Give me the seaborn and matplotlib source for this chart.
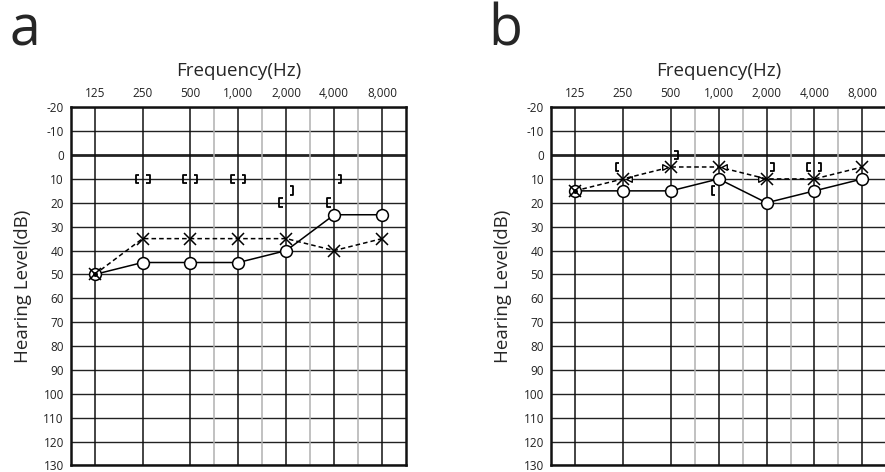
import matplotlib
matplotlib.use("Agg")
import matplotlib.pyplot as plt
from matplotlib.path import Path
import numpy as np
import pandas as pd
import seaborn as sns

# --- data ---
freq_labels = ["125", "250", "500", "1,000", "2,000", "4,000", "8,000"]
db_ticks = list(range(-20, 140, 10))

# panel a
a_right_air = [50, 45, 45, 45, 40, 25, 25]      # O, solid
a_left_air = [50, 35, 35, 35, 35, 40, 35]       # X, dashed
a_right_bone_freq = [1, 2, 3, 4, 5]             # "[" brackets
a_right_bone_db = [10, 10, 10, 20, 20]
a_left_bone_freq = [1, 2, 3, 4, 5]              # "]" brackets
a_left_bone_db = [10, 10, 10, 15, 10]

# panel b
b_right_air = [15, 15, 15, 10, 20, 15, 10]
b_left_air = [15, 10, 5, 5, 10, 10, 5]
b_right_bone_freq = [1, 3, 5]
b_right_bone_db = [5, 15, 5]
b_left_bone_freq = [2, 4, 5]
b_left_bone_db = [0, 5, 5]

sns.set_style("white")
plt.rcParams["font.family"] = ["Open Sans", "DejaVu Sans"]
plt.rcParams["axes.unicode_minus"] = False

codes = [Path.MOVETO, Path.LINETO, Path.LINETO, Path.LINETO]
open_bracket = Path([(0.4, -1), (-0.4, -1), (-0.4, 1), (0.4, 1)], codes)
close_bracket = Path([(-0.4, -1), (0.4, -1), (0.4, 1), (-0.4, 1)], codes)

fig = plt.figure(figsize=(8.85, 4.72), dpi=100)


def draw_audiogram(ax, right_air, left_air, rb_f, rb_db, lb_f, lb_db):
    pos = np.arange(len(freq_labels))
    # grid
    for y in db_ticks:
        ax.axhline(y, color="#222222", lw=2.0 if y == 0 else 1.0, zorder=1)
    for x in pos:
        ax.axvline(x, color="#111111", lw=1.1, zorder=1)
    for x in pos[2:-1] + 0.5:
        ax.axvline(x, color="#b0b0b0", lw=1.1, zorder=1)

    df_r = pd.DataFrame({"pos": pos, "db": right_air})
    df_l = pd.DataFrame({"pos": pos, "db": left_air})
    # left ear: dashed line with X
    sns.lineplot(data=df_l, x="pos", y="db", ax=ax, color="black", lw=1.1,
                 linestyle=(0, (3, 2)), zorder=3)
    # right ear: solid line with O
    sns.lineplot(data=df_r, x="pos", y="db", ax=ax, color="black", lw=1.1,
                 zorder=3)
    ax.plot(df_r["pos"], df_r["db"], ls="none", marker="o", ms=8.5,
            mfc="white", mec="black", mew=1.1, zorder=4)
    ax.plot(df_l["pos"], df_l["db"], ls="none", marker="x", ms=9,
            mec="black", mew=1.1, zorder=5)
    # centre dot where X sits on O
    ax.plot(pos[:1], right_air[:1], "o", color="black", ms=2.5, zorder=6)

    # bone conduction brackets
    ax.scatter(np.array(rb_f) - 0.11, rb_db, marker=open_bracket, s=40,
               facecolors="none", edgecolors="black", lw=1.3, zorder=5)
    ax.scatter(np.array(lb_f) + 0.11, lb_db, marker=close_bracket, s=40,
               facecolors="none", edgecolors="black", lw=1.3, zorder=5)

    ax.set_xlim(-0.5, len(freq_labels) - 0.5)
    ax.set_ylim(130, -20)
    ax.set_xticks(pos)
    ax.set_xticklabels(freq_labels)
    ax.set_yticks(db_ticks)
    ax.xaxis.tick_top()
    ax.xaxis.set_label_position("top")
    ax.tick_params(axis="both", length=0, labelsize=8.5, pad=5, colors="#222222")
    ax.set_xlabel("Frequency(Hz)", fontsize=13.5, labelpad=8)
    ax.set_ylabel("Hearing Level(dB)", fontsize=13.5, labelpad=8)
    for s in ax.spines.values():
        s.set_visible(True)
        s.set_color("#111111")
        s.set_linewidth(1.8)
        s.set_zorder(7)


ax_a = fig.add_axes([0.0799, 0.0138, 0.3789, 0.7589])
draw_audiogram(ax_a, a_right_air, a_left_air, a_right_bone_freq,
               a_right_bone_db, a_left_bone_freq, a_left_bone_db)

ax_b = fig.add_axes([0.6226, 0.0138, 0.3789, 0.7589])
draw_audiogram(ax_b, b_right_air, b_left_air, b_right_bone_freq,
               b_right_bone_db, b_left_bone_freq, b_left_bone_db)
# small masking triangles beside some X marks in panel b
tri_pos = [1, 3]
ax_b.scatter(np.array(tri_pos) + 0.12, [b_left_air[i] for i in tri_pos],
             marker="<", s=16, facecolor="white", edgecolor="black", lw=1, zorder=5)
tri_pos = [2, 4]
ax_b.scatter(np.array(tri_pos) - 0.12, [b_left_air[i] for i in tri_pos],
             marker=">", s=16, facecolor="white", edgecolor="black", lw=1, zorder=5)

fig.text(0.011, 1 - 45 / 472, "a", fontsize=40, va="baseline")
fig.text(0.552, 1 - 45 / 472, "b", fontsize=40, va="baseline")

fig.savefig("out.png", dpi=100)
